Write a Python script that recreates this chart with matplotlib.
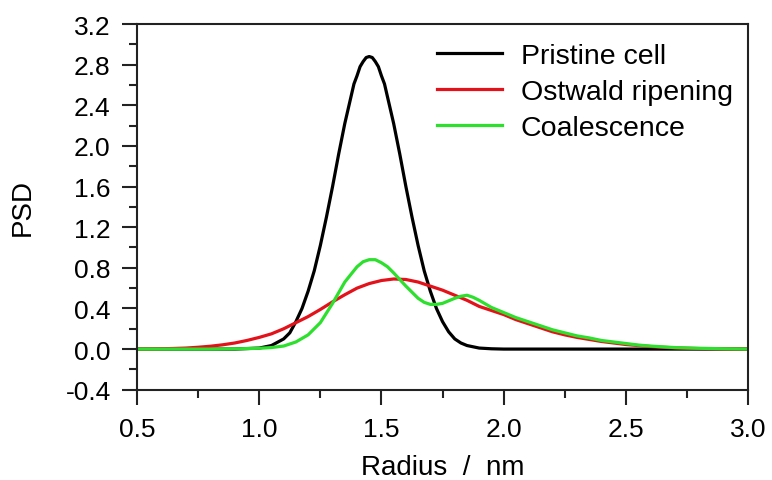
import numpy as np
import matplotlib.pyplot as plt
from matplotlib.ticker import MultipleLocator

plt.rcParams['font.family'] = ['Liberation Sans', 'DejaVu Sans']

# Pristine cell
r_pristine = [0.50, 0.90, 1.00, 1.05, 1.10, 1.125, 1.15, 1.175, 1.20, 1.225, 1.25,
              1.275, 1.30, 1.325, 1.35, 1.375, 1.3875, 1.40, 1.4125, 1.425, 1.4375,
              1.45, 1.4625, 1.475, 1.4875, 1.50, 1.5125, 1.525, 1.55, 1.575, 1.60,
              1.625, 1.65, 1.675, 1.70, 1.725, 1.75, 1.775, 1.80, 1.825, 1.85,
              1.90, 1.95, 2.00, 3.00]
psd_pristine = [0.0, 0.0, 0.01, 0.035, 0.10, 0.16, 0.27, 0.40, 0.57, 0.77, 1.02,
                1.30, 1.60, 1.92, 2.22, 2.48, 2.61, 2.69, 2.78, 2.83, 2.87,
                2.88, 2.87, 2.83, 2.78, 2.69, 2.61, 2.48, 2.22, 1.92, 1.60,
                1.30, 1.02, 0.77, 0.57, 0.40, 0.27, 0.17, 0.10, 0.06, 0.035,
                0.01, 0.003, 0.0, 0.0]

# Ostwald ripening
r_ostwald = [0.50, 0.55, 0.60, 0.65, 0.70, 0.75, 0.80, 0.85, 0.90, 0.95, 1.00,
             1.05, 1.10, 1.15, 1.20, 1.25, 1.30, 1.35, 1.40, 1.45, 1.50, 1.55,
             1.60, 1.65, 1.70, 1.75, 1.80, 1.85, 1.90, 1.95, 2.00, 2.05, 2.10,
             2.15, 2.20, 2.25, 2.30, 2.35, 2.40, 2.45, 2.50, 2.55, 2.60, 2.65,
             2.70, 2.75, 2.80, 2.90, 3.00]
psd_ostwald = [0.0, 0.001, 0.003, 0.006, 0.01, 0.018, 0.028, 0.042, 0.06, 0.085, 0.115,
               0.15, 0.20, 0.26, 0.32, 0.39, 0.465, 0.535, 0.60, 0.645, 0.675, 0.69,
               0.685, 0.66, 0.62, 0.58, 0.53, 0.48, 0.42, 0.38, 0.34, 0.29, 0.25,
               0.21, 0.17, 0.14, 0.115, 0.095, 0.075, 0.06, 0.045, 0.035, 0.025, 0.018,
               0.012, 0.008, 0.005, 0.002, 0.0]

# Coalescence
r_coal = [0.50, 0.80, 0.90, 1.00, 1.05, 1.10, 1.15, 1.20, 1.25, 1.30, 1.35, 1.40,
          1.425, 1.45, 1.475, 1.50, 1.525, 1.55, 1.60, 1.65, 1.675, 1.70, 1.725,
          1.75, 1.775, 1.80, 1.825, 1.85, 1.875, 1.90, 1.95, 2.00, 2.05, 2.10,
          2.15, 2.20, 2.25, 2.30, 2.35, 2.40, 2.45, 2.50, 2.55, 2.60, 2.65, 2.70,
          2.80, 2.90, 3.00]
psd_coal = [0.0, 0.0, 0.002, 0.008, 0.015, 0.03, 0.07, 0.14, 0.26, 0.45, 0.66, 0.81,
            0.86, 0.88, 0.88, 0.85, 0.81, 0.75, 0.62, 0.50, 0.46, 0.44, 0.44,
            0.45, 0.475, 0.50, 0.52, 0.53, 0.51, 0.48, 0.41, 0.36, 0.31, 0.27,
            0.23, 0.19, 0.16, 0.13, 0.11, 0.085, 0.07, 0.055, 0.04, 0.03, 0.022, 0.015,
            0.008, 0.003, 0.0]

fig = plt.figure(figsize=(7.72, 4.81), dpi=100)
ax = fig.add_axes([0.1775, 0.1877, 0.7915, 0.7603])

ax.plot(r_pristine, psd_pristine, color='black', lw=2.3, label='Pristine cell')
ax.plot(r_ostwald, psd_ostwald, color='#e3121a', lw=2.3, label='Ostwald ripening')
ax.plot(r_coal, psd_coal, color='#2ee02e', lw=2.3, label='Coalescence')

ax.set_xlim(0.5, 3.0)
ax.set_ylim(-0.4, 3.2)
ax.xaxis.set_major_locator(MultipleLocator(0.5))
ax.xaxis.set_minor_locator(MultipleLocator(0.25))
ax.yaxis.set_major_locator(MultipleLocator(0.4))
ax.yaxis.set_minor_locator(MultipleLocator(0.2))
ax.xaxis.set_major_formatter(plt.FuncFormatter(lambda v, _: f"{v:.1f}"))
ax.yaxis.set_major_formatter(plt.FuncFormatter(lambda v, _: f"{v:.1f}"))

ax.tick_params(which='both', direction='out', width=1.5, labelsize=19, color='#222222')
ax.tick_params(which='major', length=11)
ax.tick_params(axis='y', which='major', pad=8)
ax.tick_params(axis='x', which='major', pad=9)
ax.tick_params(which='minor', length=5.5)
for s in ax.spines.values():
    s.set_linewidth(1.5)
    s.set_color('#222222')

ax.set_xlabel('Radius  /  nm', fontsize=20, labelpad=9)
ax.set_ylabel('PSD', fontsize=20, labelpad=21)

ax.legend(loc='upper left', bbox_to_anchor=(0.4915, 0.947), frameon=False,
          fontsize=20.5, handlelength=2.28, handletextpad=0.65, labelspacing=0.35,
          borderpad=0, borderaxespad=0)

fig.savefig('out.png', dpi=100)
